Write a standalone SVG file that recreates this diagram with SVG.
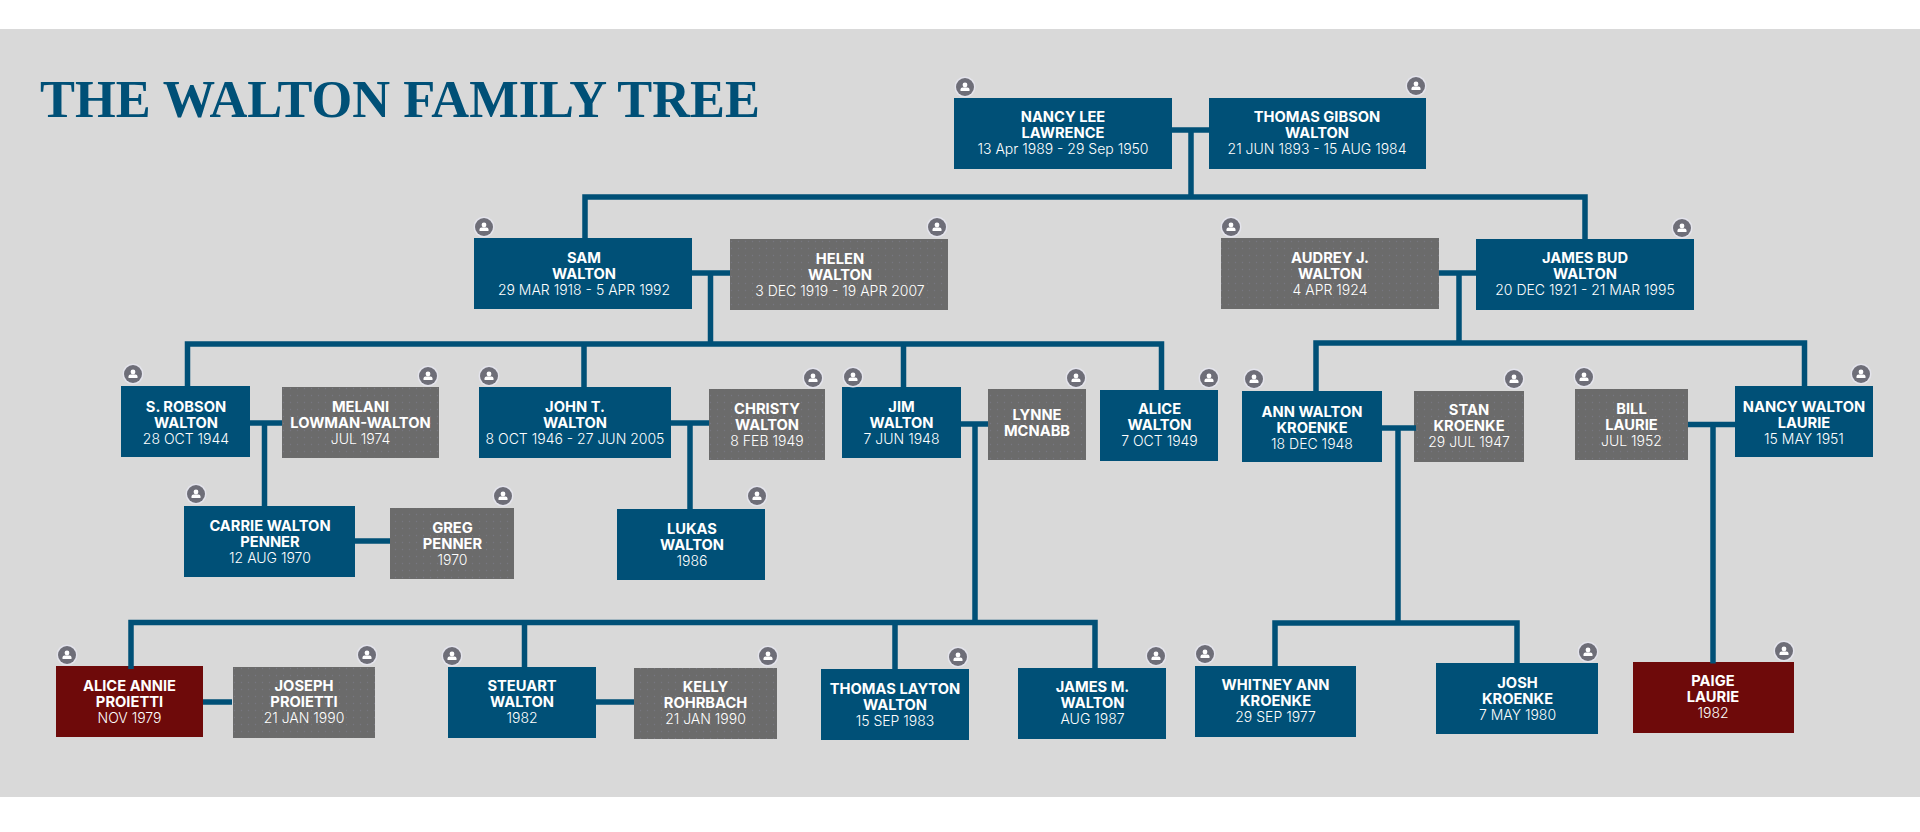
<svg xmlns="http://www.w3.org/2000/svg" width="1920" height="832" viewBox="0 0 1920 832">
<style>
.b{fill:#005077}.g{fill:url(#dots)}.r{fill:#6e0a0a}
.n{font:700 14.7px Inter,"Liberation Sans",sans-serif;fill:#fff;text-anchor:middle}
.d{font:300 14px Inter,"Liberation Sans",sans-serif;fill:#fff;text-anchor:middle}
.c{fill:none;stroke:#005077;stroke-width:5.5}
</style>
<defs>
<pattern id="dots" width="7" height="7" patternUnits="userSpaceOnUse"><rect width="7" height="7" fill="#6b6b6b"/><circle cx="3.5" cy="3.5" r="0.7" fill="#777780"/></pattern>
<g id="p"><circle r="10.5" fill="#e4e4ec"/><circle r="9" fill="#6e6e78"/><circle cy="-2" r="2.4" fill="#fff"/><path d="M-4.5 4v-1.5q0-2 2-2h5q2 0 2 2V4z" fill="#fff"/></g>
</defs>
<rect y="29" width="1920" height="768" fill="#d9d9d9"/>
<text x="40" y="117" font-family="Liberation Serif" font-weight="700" font-size="52" fill="#005077" textLength="720" lengthAdjust="spacingAndGlyphs">THE WALTON FAMILY TREE</text>
<g id="n-nancy"><rect class="b" x="954" y="98" width="218" height="71"/><text class="n" x="1063" y="122">NANCY LEE</text><text class="n" x="1063" y="138">LAWRENCE</text><text class="d" x="1063" y="154">13 Apr 1989 - 29 Sep 1950</text><use href="#p" x="965" y="87"/></g>
<g id="n-thomas"><rect class="b" x="1209" y="98" width="217" height="71"/><text class="n" x="1317" y="122">THOMAS GIBSON</text><text class="n" x="1317" y="138">WALTON</text><text class="d" x="1317" y="154">21 JUN 1893 - 15 AUG 1984</text><use href="#p" x="1416" y="86"/></g>
<g id="n-sam"><rect class="b" x="474" y="238" width="218" height="71"/><text class="n" x="584" y="263">SAM</text><text class="n" x="584" y="279">WALTON</text><text class="d" x="584" y="295">29 MAR 1918 - 5 APR 1992</text><use href="#p" x="484" y="227"/></g>
<g id="n-helen"><rect class="g" x="730" y="239" width="218" height="71"/><text class="n" x="840" y="264">HELEN</text><text class="n" x="840" y="280">WALTON</text><text class="d" x="840" y="296">3 DEC 1919 - 19 APR 2007</text><use href="#p" x="937" y="227"/></g>
<g id="n-audrey"><rect class="g" x="1221" y="238" width="218" height="71"/><text class="n" x="1330" y="263">AUDREY J.</text><text class="n" x="1330" y="279">WALTON</text><text class="d" x="1330" y="295">4 APR 1924</text><use href="#p" x="1231" y="227"/></g>
<g id="n-james"><rect class="b" x="1476" y="239" width="218" height="71"/><text class="n" x="1585" y="263">JAMES BUD</text><text class="n" x="1585" y="279">WALTON</text><text class="d" x="1585" y="295">20 DEC 1921 - 21 MAR 1995</text><use href="#p" x="1682" y="228"/></g>
<g id="n-robson"><rect class="b" x="121" y="386" width="129" height="71"/><text class="n" x="186" y="412">S. ROBSON</text><text class="n" x="186" y="428">WALTON</text><text class="d" x="186" y="444">28 OCT 1944</text><use href="#p" x="133" y="374"/></g>
<g id="n-melani"><rect class="g" x="282" y="387" width="157" height="71"/><text class="n" x="360.500" y="412">MELANI</text><text class="n" x="360.500" y="428">LOWMAN-WALTON</text><text class="d" x="360.500" y="444">JUL 1974</text><use href="#p" x="428" y="376"/></g>
<g id="n-john"><rect class="b" x="479" y="387" width="192" height="71"/><text class="n" x="575" y="412">JOHN T.</text><text class="n" x="575" y="428">WALTON</text><text class="d" x="575" y="444">8 OCT 1946 - 27 JUN 2005</text><use href="#p" x="489" y="376"/></g>
<g id="n-christy"><rect class="g" x="709" y="389" width="116" height="71"/><text class="n" x="767" y="414">CHRISTY</text><text class="n" x="767" y="430">WALTON</text><text class="d" x="767" y="446">8 FEB 1949</text><use href="#p" x="813" y="378"/></g>
<g id="n-jim"><rect class="b" x="842" y="387" width="119" height="71"/><text class="n" x="901.500" y="412">JIM</text><text class="n" x="901.500" y="428">WALTON</text><text class="d" x="901.500" y="444">7 JUN 1948</text><use href="#p" x="853" y="377"/></g>
<g id="n-lynne"><rect class="g" x="988" y="389" width="98" height="71"/><text class="n" x="1037" y="420">LYNNE</text><text class="n" x="1037" y="436">MCNABB</text><use href="#p" x="1076" y="378"/></g>
<g id="n-alice"><rect class="b" x="1100" y="390" width="118" height="71"/><text class="n" x="1159.500" y="414">ALICE</text><text class="n" x="1159.500" y="430">WALTON</text><text class="d" x="1159.500" y="446">7 OCT 1949</text><use href="#p" x="1209" y="378"/></g>
<g id="n-ann"><rect class="b" x="1242" y="391" width="140" height="71"/><text class="n" x="1312" y="417">ANN WALTON</text><text class="n" x="1312" y="433">KROENKE</text><text class="d" x="1312" y="449">18 DEC 1948</text><use href="#p" x="1254" y="379"/></g>
<g id="n-stan"><rect class="g" x="1414" y="391" width="110" height="71"/><text class="n" x="1469" y="415">STAN</text><text class="n" x="1469" y="431">KROENKE</text><text class="d" x="1469" y="447">29 JUL 1947</text><use href="#p" x="1514" y="379"/></g>
<g id="n-bill"><rect class="g" x="1575" y="389" width="113" height="71"/><text class="n" x="1631.500" y="414">BILL</text><text class="n" x="1631.500" y="430">LAURIE</text><text class="d" x="1631.500" y="446">JUL 1952</text><use href="#p" x="1584" y="377"/></g>
<g id="n-nancyw"><rect class="b" x="1735" y="386" width="138" height="71"/><text class="n" x="1804" y="412">NANCY WALTON</text><text class="n" x="1804" y="428">LAURIE</text><text class="d" x="1804" y="444">15 MAY 1951</text><use href="#p" x="1861" y="374"/></g>
<g id="n-carrie"><rect class="b" x="184" y="506" width="171" height="71"/><text class="n" x="270" y="531">CARRIE WALTON</text><text class="n" x="270" y="547">PENNER</text><text class="d" x="270" y="563">12 AUG 1970</text><use href="#p" x="196" y="494"/></g>
<g id="n-greg"><rect class="g" x="390" y="508" width="124" height="71"/><text class="n" x="452.500" y="533">GREG</text><text class="n" x="452.500" y="549">PENNER</text><text class="d" x="452.500" y="565">1970</text><use href="#p" x="503" y="496"/></g>
<g id="n-lukas"><rect class="b" x="617" y="509" width="148" height="71"/><text class="n" x="692" y="534">LUKAS</text><text class="n" x="692" y="550">WALTON</text><text class="d" x="692" y="566">1986</text><use href="#p" x="757" y="496"/></g>
<g id="n-aliceannie"><rect class="r" x="56" y="666" width="147" height="71"/><text class="n" x="129.500" y="691">ALICE ANNIE</text><text class="n" x="129.500" y="707">PROIETTI</text><text class="d" x="129.500" y="723">NOV 1979</text><use href="#p" x="67" y="655"/></g>
<g id="n-joseph"><rect class="g" x="233" y="667" width="142" height="71"/><text class="n" x="304" y="691">JOSEPH</text><text class="n" x="304" y="707">PROIETTI</text><text class="d" x="304" y="723">21 JAN 1990</text><use href="#p" x="367" y="655"/></g>
<g id="n-steuart"><rect class="b" x="448" y="667" width="148" height="71"/><text class="n" x="522" y="691">STEUART</text><text class="n" x="522" y="707">WALTON</text><text class="d" x="522" y="723">1982</text><use href="#p" x="452" y="656"/></g>
<g id="n-kelly"><rect class="g" x="634" y="668" width="143" height="71"/><text class="n" x="705.500" y="692">KELLY</text><text class="n" x="705.500" y="708">ROHRBACH</text><text class="d" x="705.500" y="724">21 JAN 1990</text><use href="#p" x="768" y="656"/></g>
<g id="n-thomasl"><rect class="b" x="821" y="669" width="148" height="71"/><text class="n" x="895" y="694">THOMAS LAYTON</text><text class="n" x="895" y="710">WALTON</text><text class="d" x="895" y="726">15 SEP 1983</text><use href="#p" x="958" y="657"/></g>
<g id="n-jamesm"><rect class="b" x="1018" y="668" width="148" height="71"/><text class="n" x="1092.500" y="692">JAMES M.</text><text class="n" x="1092.500" y="708">WALTON</text><text class="d" x="1092.500" y="724">AUG 1987</text><use href="#p" x="1156" y="656"/></g>
<g id="n-whitney"><rect class="b" x="1195" y="666" width="161" height="71"/><text class="n" x="1275.500" y="690">WHITNEY ANN</text><text class="n" x="1275.500" y="706">KROENKE</text><text class="d" x="1275.500" y="722">29 SEP 1977</text><use href="#p" x="1205" y="654"/></g>
<g id="n-josh"><rect class="b" x="1436" y="663" width="162" height="71"/><text class="n" x="1517.500" y="688">JOSH</text><text class="n" x="1517.500" y="704">KROENKE</text><text class="d" x="1517.500" y="720">7 MAY 1980</text><use href="#p" x="1588" y="652"/></g>
<g id="n-paige"><rect class="r" x="1633" y="662" width="161" height="71"/><text class="n" x="1713" y="686">PAIGE</text><text class="n" x="1713" y="702">LAURIE</text><text class="d" x="1713" y="718">1982</text><use href="#p" x="1784" y="651"/></g>
<g id="connectors">
<path class="c" d="M1172 130H1209M1191 130V197M585 238V197H1585V239"/>
<path class="c" d="M692 273H730M710.500 273V344M187.500 386V344H1161.500V390M584 344V387M903.500 344V387"/>
<path class="c" d="M1439 273H1476M1459 273V343M1316 391V343H1804.500V386"/>
<path class="c" d="M250 423H282M264.500 423V506M355 541H390"/>
<path class="c" d="M671 423H709M690 423V509"/>
<path class="c" d="M961 424H988M975 424V622.500M131 669V622.500H1095V668M524.500 622.500V667M895 622.500V669"/>
<path class="c" d="M203 702H232M596 702H634"/>
<path class="c" d="M1382 428H1416M1398 428V623M1275 666V623H1517V663"/>
<path class="c" d="M1688 424.500H1735M1713 424.500V663.500"/>
</g>
</svg>
